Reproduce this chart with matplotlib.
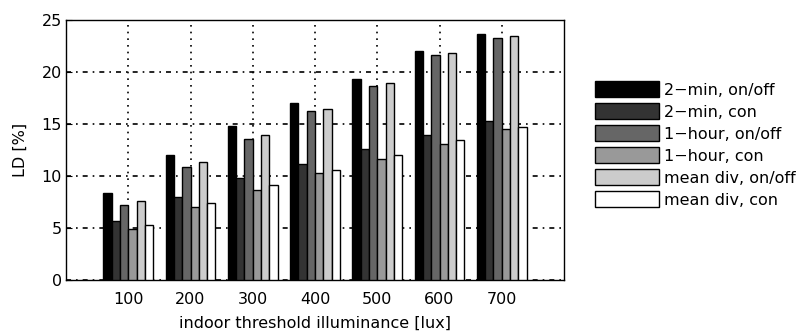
import matplotlib
matplotlib.use("Agg")
import matplotlib.pyplot as plt
import numpy as np

plt.rcParams['font.family'] = ['DejaVu Sans']

thresholds = [100, 200, 300, 400, 500, 600, 700]
series_names = ["2\u2212min, on/off", "2\u2212min, con", "1\u2212hour, on/off",
                "1\u2212hour, con", "mean div, on/off", "mean div, con"]
two_min_onoff = [8.4, 12.05, 14.8, 17.0, 19.3, 22.0, 23.7]
two_min_con = [5.7, 8.0, 9.8, 11.2, 12.6, 13.9, 15.3]
one_hour_onoff = [7.2, 10.9, 13.6, 16.25, 18.7, 21.6, 23.3]
one_hour_con = [4.9, 7.0, 8.7, 10.25, 11.6, 13.1, 14.5]
mean_div_onoff = [7.6, 11.3, 13.9, 16.4, 18.9, 21.8, 23.5]
mean_div_con = [5.3, 7.4, 9.1, 10.6, 12.0, 13.5, 14.7]
series = [two_min_onoff, two_min_con, one_hour_onoff, one_hour_con, mean_div_onoff, mean_div_con]
colors = ["#000000", "#333333", "#666666", "#999999", "#cccccc", "#ffffff"]

W, H = 808, 333
FS = 11.5
fig = plt.figure(figsize=(W / 100, H / 100), dpi=100)
ax = fig.add_axes([66 / W, 1 - 280 / H, (564 - 66) / W, (280 - 20) / H])

n = len(series)
bw = 100 / (n + 1.5)
x = np.array(thresholds, dtype=float)
handles = []
for i, (vals, c, name) in enumerate(zip(series, colors, series_names)):
    h = ax.bar(x + (i - (n - 1) / 2) * bw, vals, width=bw, color=c,
               edgecolor="black", linewidth=1.0, label=name, zorder=3)
    handles.append(h)

ax.set_xlim(0, 800)
ax.set_ylim(0, 25)
ax.set_xticks(thresholds)
ax.set_yticks([0, 5, 10, 15, 20, 25])
ax.tick_params(direction="in", length=4, labelsize=FS)
ax.tick_params(axis="x", pad=8.5)
ax.tick_params(axis="y", pad=3)
ax.set_xlabel("indoor threshold illuminance [lux]", fontsize=FS, labelpad=6.5)
ax.set_ylabel("LD [%]", fontsize=FS, labelpad=10)
for s in ax.spines.values():
    s.set_linewidth(1.0)

ax.xaxis.grid(True, linestyle=(0, (1, 3)), color="black", linewidth=1.2, zorder=0)
ax.yaxis.grid(True, linestyle=(0, (3, 3, 1, 3)), color="black", linewidth=1.2, zorder=0)
ax.set_axisbelow(True)

fs = FS * 100 / 72
leg = fig.legend(handles=handles, loc="upper left",
                 bbox_to_anchor=(595 / W, 1 - 81 / H), bbox_transform=fig.transFigure,
                 frameon=False, fontsize=FS, handlelength=64 / fs, handleheight=19 / fs,
                 labelspacing=5.5 / fs, handletextpad=5 / fs, borderpad=0, borderaxespad=0)

fig.savefig("out.png", dpi=100)
